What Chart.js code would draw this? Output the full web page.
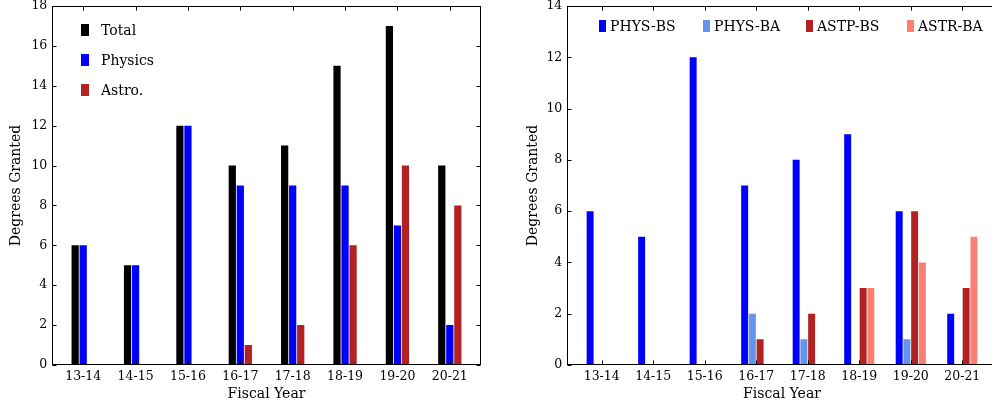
<!DOCTYPE html>
<html><head><meta charset="utf-8">
<script src="https://cdn.jsdelivr.net/npm/chart.js@4/dist/chart.umd.min.js"></script>
<style>
html,body{margin:0;padding:0;overflow:hidden;background:#fff;width:992px;height:406px;}
#w1{position:absolute;left:0;top:0;width:500px;height:406px;}
#w2{position:absolute;left:500px;top:0;width:510px;height:406px;}
canvas{display:block;}
</style></head><body>
<div id="w1"><canvas id="c1" width="500" height="406"></canvas></div>
<div id="w2"><canvas id="c2" width="510" height="406"></canvas></div>
<script>
// ---- data ----
const categories = ['13-14','14-15','15-16','16-17','17-18','18-19','19-20','20-21'];
const totalDeg   = [6, 5, 12, 10, 11, 15, 17, 10];
const physicsDeg = [6, 5, 12, 9, 9, 9, 7, 2];
const astroDeg   = [0, 0, 0, 1, 2, 6, 10, 8];

const physBS = [6, 5, 12, 7, 8, 9, 6, 2];
const physBA = [0, 0, 0, 2, 1, 0, 1, 0];
const astpBS = [0, 0, 0, 1, 2, 3, 6, 3];
const astrBA = [0, 0, 0, 0, 0, 3, 4, 5];

const leftTicks  = [0, 2, 4, 6, 8, 10, 12, 14, 16, 18];
const rightTicks = [0, 2, 4, 6, 8, 10, 12, 14];

const FONT = 'DejaVu Serif';
const pts = arr => arr.map((v, i) => ({x: i, y: v}));

const framePlugin = {
  id: 'frame',
  afterDatasetsDraw(chart, args, opts) {
    const {ctx, chartArea: ca, scales: {x, y}} = chart;
    ctx.save();
    ctx.strokeStyle = '#000';
    ctx.lineWidth = 1;
    const L = 4;
    const l = Math.round(ca.left) + 0.5, r = Math.round(ca.right) - 0.5;
    const t = Math.round(ca.top) + 0.5, b = Math.round(ca.bottom) - 0.5;
    ctx.beginPath();
    x.ticks.forEach(tk => {
      const px = Math.round(x.getPixelForValue(tk.value)) + 0.5;
      ctx.moveTo(px, b); ctx.lineTo(px, b - L);
      ctx.moveTo(px, t); ctx.lineTo(px, t + L);
    });
    y.ticks.forEach(tk => {
      const py = Math.round(y.getPixelForValue(tk.value)) + 0.5;
      ctx.moveTo(l, py); ctx.lineTo(l + L, py);
      ctx.moveTo(r, py); ctx.lineTo(r - L, py);
    });
    ctx.stroke();
    ctx.strokeRect(l, t, r - l, b - t);
    // legend
    const lg = opts.legend;
    ctx.font = `${lg.size}px "${FONT}"`;
    ctx.textBaseline = 'middle';
    ctx.textAlign = 'left';
    chart.data.datasets.forEach((ds, i) => {
      const mx = lg.vertical ? lg.x : lg.xs[i];
      const my = lg.vertical ? lg.y + i * lg.dy : lg.y;
      ctx.fillStyle = ds.backgroundColor;
      ctx.fillRect(mx, my - lg.bh / 2, lg.bw, lg.bh);
      ctx.fillStyle = '#000';
      ctx.fillText(ds.label, mx + lg.bw + lg.gap, my + 1);
    });
    ctx.restore();
  }
};

function makeChart(id, datasets, yMax, yTickVals, xMin, xMax, yWidth, padRight, catPct, yTitlePad, legend) {
  return new Chart(document.getElementById(id), {
    type: 'bar',
    data: {datasets},
    options: {
      responsive: false,
      animation: false,
      events: [],
      layout: {padding: {top: 6, right: padRight, bottom: 0, left: 0}},
      datasets: {bar: {categoryPercentage: catPct, barPercentage: 0.9, borderWidth: 0, inflateAmount: 0}},
      plugins: {legend: {display: false}, tooltip: {enabled: false}, frame: {legend}},
      scales: {
        x: {
          type: 'linear', min: xMin, max: xMax, offset: false,
          afterBuildTicks: s => { s.ticks = categories.map((c, i) => ({value: i})); },
          afterFit: s => { s.height = 41; s.paddingLeft = 0; s.paddingRight = 0; },
          grid: {display: false, drawTicks: false}, border: {display: false},
          ticks: {autoSkip: false, maxRotation: 0, minRotation: 0, padding: 4, color: '#000',
                  font: {family: FONT, size: 12.5}, callback: v => categories[v]},
          title: {display: true, text: 'Fiscal Year', color: '#000',
                  font: {family: FONT, size: 14}, padding: {top: 0, bottom: 3.6}}
        },
        y: {
          min: 0, max: yMax,
          afterBuildTicks: s => { s.ticks = yTickVals.map(v => ({value: v})); },
          afterFit: s => { s.width = yWidth; s.paddingTop = 0; s.paddingBottom = 0; },
          grid: {display: false, drawTicks: false}, border: {display: false},
          ticks: {padding: 5, color: '#000', font: {family: FONT, size: 12.5}},
          title: {display: true, text: 'Degrees Granted', color: '#000',
                  font: {family: FONT, size: 14}, padding: {top: yTitlePad, bottom: 0}}
        }
      }
    },
    plugins: [framePlugin]
  });
}

makeChart('c1', [
  {label: 'Total',   data: pts(totalDeg),   backgroundColor: '#000000'},
  {label: 'Physics', data: pts(physicsDeg), backgroundColor: '#0000ff'},
  {label: 'Astro.',  data: pts(astroDeg),   backgroundColor: '#b22222'}
], 18, leftTicks, -0.59, 7.59, 52.3, 19.3, 0.46, 8.1,
  {vertical: true, x: 81, y: 30, dy: 30, bw: 8, bh: 12, gap: 12, size: 14});

makeChart('c2', [
  {label: 'PHYS-BS', data: pts(physBS), backgroundColor: '#0000ff'},
  {label: 'PHYS-BA', data: pts(physBA), backgroundColor: '#6495ed'},
  {label: 'ASTP-BS', data: pts(astpBS), backgroundColor: '#b22222'},
  {label: 'ASTR-BA', data: pts(astrBA), backgroundColor: '#fa8072'}
], 14, rightTicks, -0.668, 7.668, 67.3, 13.3, 0.6, 24.6,
  {vertical: false, xs: [99, 203, 306, 407], y: 26, bw: 7, bh: 12, gap: 4, size: 14});
</script>
</body></html>
